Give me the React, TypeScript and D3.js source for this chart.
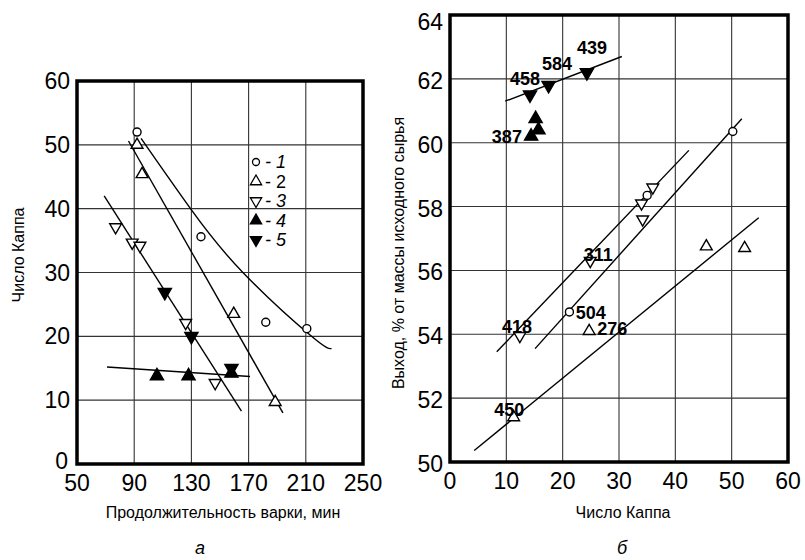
import * as d3 from 'd3';
import { useEffect, useRef } from 'react';

// panel a: cooking time (min) vs kappa number
const aXTicks = [50, 90, 130, 170, 210, 250];
const aYTicks = [0, 10, 20, 30, 40, 50, 60];
const aSeries1 = [[92, 52], [136.7, 35.6], [182, 22.2], [210.7, 21.2]];
const aSeries2 = [[92, 50], [95.5, 45.4], [159.6, 23.5], [188.6, 9.7]];
const aSeries3 = [[77, 37.1], [88.6, 34.7], [94, 34.2], [126, 22.1], [146.6, 12.7]];
const aSeries4 = [[105.9, 13.8], [128, 13.8], [158, 14.2]];
const aSeries5 = [[111.4, 26.9], [130, 20], [158, 15]];
const aCurve1 = [[94.8, 51], [130, 39.8], [166, 30], [214, 20], [228, 18.1]];
const aLine2 = [[86, 50.6], [194, 8]];
const aLine3 = [[69, 42], [165, 8.3]];
const aLine4 = [[71, 15.2], [171, 13.7]];
const legendItems = ['1', '2', '3', '4', '5'];

// panel б: kappa number vs yield
const bXTicks = [0, 10, 20, 30, 40, 50, 60];
const bYTicks = [50, 52, 54, 56, 58, 60, 62, 64];
const bFilledDown = [[14.2, 61.5], [17.5, 61.8], [24.3, 62.2]];
const bFilledUp = [[15.2, 60.75], [15.7, 60.4], [14.4, 60.2]];
const bOpenDown = [[24.9, 56.3], [12.4, 53.95], [34, 58.1], [36, 58.6], [34.2, 57.6]];
const bOpenCircle = [[35, 58.35], [50.2, 60.35], [21.2, 54.7]];
const bOpenUp = [[45.5, 56.75], [52.3, 56.7], [24.7, 54.1], [11.3, 51.4]];
const bLineTop = [[9.8, 61.3], [30.5, 62.7]];
const bLineA = [[8.3, 53.45], [42.4, 59.76]];
const bLineB = [[15.1, 53.55], [51.8, 60.75]];
const bLineC = [[4.3, 50.36], [54.8, 57.65]];
const bLabels: [string, number, number][] = [
  ['458', 13.3, 62.0], ['584', 19.0, 62.47], ['439', 25.2, 62.97],
  ['387', 10.1, 60.18], ['311', 26.3, 56.48], ['418', 11.9, 54.23],
  ['504', 25.0, 54.67], ['276', 28.8, 54.17], ['450', 10.5, 51.63],
];

const FONT = 'Arial, "Liberation Sans", sans-serif';

export default function App() {
  const ref = useRef<SVGSVGElement | null>(null);

  useEffect(() => {
    const svg = d3.select(ref.current);
    svg.selectAll('*').remove();
    svg.attr('width', 805).attr('height', 560);
    svg.append('rect').attr('width', 805).attr('height', 560).attr('fill', '#fff');

    const tri = d3.symbol().type(d3.symbolTriangle);

    const drawPanel = (
      x: d3.ScaleLinear<number, number>,
      y: d3.ScaleLinear<number, number>,
      xTicks: number[],
      yTicks: number[],
    ) => {
      const g = svg.append('g');
      const [x0, x1] = x.range();
      const [y0, y1] = y.range();
      g.selectAll('.gx').data(xTicks.slice(1, -1)).join('line')
        .attr('x1', d => x(d)).attr('x2', d => x(d))
        .attr('y1', y0).attr('y2', y1)
        .attr('stroke', '#333').attr('stroke-width', 1.1);
      g.selectAll('.gy').data(yTicks.slice(1, -1)).join('line')
        .attr('y1', d => y(d)).attr('y2', d => y(d))
        .attr('x1', x0).attr('x2', x1)
        .attr('stroke', '#333').attr('stroke-width', 1.1);
      g.append('rect')
        .attr('x', x0).attr('y', y1)
        .attr('width', x1 - x0).attr('height', y0 - y1)
        .attr('fill', 'none').attr('stroke', '#000').attr('stroke-width', 3.5);
      g.selectAll('.tx').data(xTicks).join('text')
        .attr('x', d => x(d)).attr('y', y0 + 19)
        .attr('text-anchor', 'middle').attr('dominant-baseline', 'central')
        .attr('font-family', FONT).attr('font-size', 23)
        .text(d => d);
      return g;
    };

    const line = (g: any, x: any, y: any, pts: number[][], curve: any = d3.curveLinear) => {
      g.append('path')
        .attr('d', d3.line().x(d => x(d[0])).y(d => y(d[1])).curve(curve)(pts as [number, number][]))
        .attr('fill', 'none').attr('stroke', '#000').attr('stroke-width', 1.4);
    };

    const marks = (g: any, x: any, y: any, pts: number[][], kind: string, size = 60) => {
      if (kind === 'circle') {
        g.selectAll(null).data(pts).join('circle')
          .attr('cx', (d: number[]) => x(d[0])).attr('cy', (d: number[]) => y(d[1]))
          .attr('r', 4).attr('fill', '#fff').attr('stroke', '#000').attr('stroke-width', 1.4);
        return;
      }
      const filled = kind.startsWith('filled');
      const down = kind.endsWith('down');
      g.selectAll(null).data(pts).join('path')
        .attr('d', tri.size(size)())
        .attr('transform', (d: number[]) => `translate(${x(d[0])},${y(d[1])})${down ? ' rotate(180)' : ''}`)
        .attr('fill', filled ? '#000' : '#fff')
        .attr('stroke', '#000').attr('stroke-width', 1.4);
    };

    // ---- panel a
    const ax = d3.scaleLinear().domain([50, 250]).range([77, 363]);
    const ay = d3.scaleLinear().domain([0, 60]).range([464, 81]);
    const ga = drawPanel(ax, ay, aXTicks, aYTicks);
    ga.selectAll('.ty').data(aYTicks).join('text')
      .attr('x', d => (d === 0 ? 68 : 70)).attr('y', d => (d === 0 ? ay(d) - 3 : ay(d)))
      .attr('text-anchor', 'end').attr('dominant-baseline', 'central')
      .attr('font-family', FONT).attr('font-size', 23)
      .text(d => d);
    line(ga, ax, ay, aCurve1, d3.curveNatural);
    line(ga, ax, ay, aLine2);
    line(ga, ax, ay, aLine3);
    line(ga, ax, ay, aLine4);
    marks(ga, ax, ay, aSeries1, 'circle');
    marks(ga, ax, ay, aSeries2, 'open-up');
    marks(ga, ax, ay, aSeries3, 'open-down');
    marks(ga, ax, ay, aSeries4, 'filled-up', 75);
    marks(ga, ax, ay, aSeries5, 'filled-down', 75);

    const kinds = ['circle', 'open-up', 'open-down', 'filled-up', 'filled-down'];
    legendItems.forEach((lab, i) => {
      const ly = 162 + i * 19.5;
      const lg = svg.append('g');
      if (kinds[i] === 'circle') {
        lg.append('circle').attr('cx', 256).attr('cy', ly).attr('r', 3.5)
          .attr('fill', '#fff').attr('stroke', '#000').attr('stroke-width', 1.3);
      } else {
        lg.append('path').attr('d', tri.size(55)())
          .attr('transform', `translate(256,${ly})${kinds[i].endsWith('down') ? ' rotate(180)' : ''}`)
          .attr('fill', kinds[i].startsWith('filled') ? '#000' : '#fff')
          .attr('stroke', '#000').attr('stroke-width', 1.3);
      }
      lg.append('text').attr('x', 265).attr('y', ly)
        .attr('dominant-baseline', 'central')
        .attr('font-family', FONT).attr('font-size', 18)
        .attr('font-style', lab === '2' ? 'normal' : 'italic')
        .text(`- ${lab}`);
    });

    svg.append('text')
      .attr('transform', 'translate(18,255) rotate(-90)')
      .attr('text-anchor', 'middle').attr('dominant-baseline', 'central')
      .attr('font-family', FONT).attr('font-size', 16)
      .text('Число Каппа');
    svg.append('text')
      .attr('x', 223).attr('y', 512)
      .attr('text-anchor', 'middle').attr('dominant-baseline', 'central')
      .attr('font-family', FONT).attr('font-size', 16)
      .text('Продолжительность варки, мин');
    svg.append('text')
      .attr('x', 200).attr('y', 548)
      .attr('text-anchor', 'middle').attr('dominant-baseline', 'central')
      .attr('font-family', FONT).attr('font-size', 18).attr('font-style', 'italic')
      .text('а');

    // ---- panel б
    const bx = d3.scaleLinear().domain([0, 60]).range([450, 788]);
    const by = d3.scaleLinear().domain([50, 64]).range([462, 15]);
    const gb = drawPanel(bx, by, bXTicks, bYTicks);
    gb.selectAll('.ty').data(bYTicks).join('text')
      .attr('x', 443).attr('y', d => Math.max(by(d) + 2, 22))
      .attr('text-anchor', 'end').attr('dominant-baseline', 'central')
      .attr('font-family', FONT).attr('font-size', 23)
      .text(d => d);
    line(gb, bx, by, bLineTop);
    line(gb, bx, by, bLineA);
    line(gb, bx, by, bLineB);
    line(gb, bx, by, bLineC);
    marks(gb, bx, by, bFilledDown, 'filled-down', 75);
    marks(gb, bx, by, bFilledUp, 'filled-up', 75);
    marks(gb, bx, by, bOpenDown, 'open-down');
    marks(gb, bx, by, bOpenCircle, 'circle');
    marks(gb, bx, by, bOpenUp, 'open-up');
    gb.selectAll('.lab').data(bLabels).join('text')
      .attr('x', d => bx(d[1])).attr('y', d => by(d[2]))
      .attr('text-anchor', 'middle').attr('dominant-baseline', 'central')
      .attr('font-family', FONT).attr('font-size', 18).attr('font-weight', 'bold')
      .text(d => d[0]);

    svg.append('text')
      .attr('transform', 'translate(398,253) rotate(-90)')
      .attr('text-anchor', 'middle').attr('dominant-baseline', 'central')
      .attr('font-family', FONT).attr('font-size', 16)
      .text('Выход, % от массы исходного сырья');
    svg.append('text')
      .attr('x', 623).attr('y', 512)
      .attr('text-anchor', 'middle').attr('dominant-baseline', 'central')
      .attr('font-family', FONT).attr('font-size', 16)
      .text('Число Каппа');
    svg.append('text')
      .attr('x', 622).attr('y', 548)
      .attr('text-anchor', 'middle').attr('dominant-baseline', 'central')
      .attr('font-family', FONT).attr('font-size', 18).attr('font-style', 'italic')
      .text('б');
  }, []);

  return <svg ref={ref} style={{ position: 'absolute', left: 0, top: 0, display: 'block' }}></svg>;
}
